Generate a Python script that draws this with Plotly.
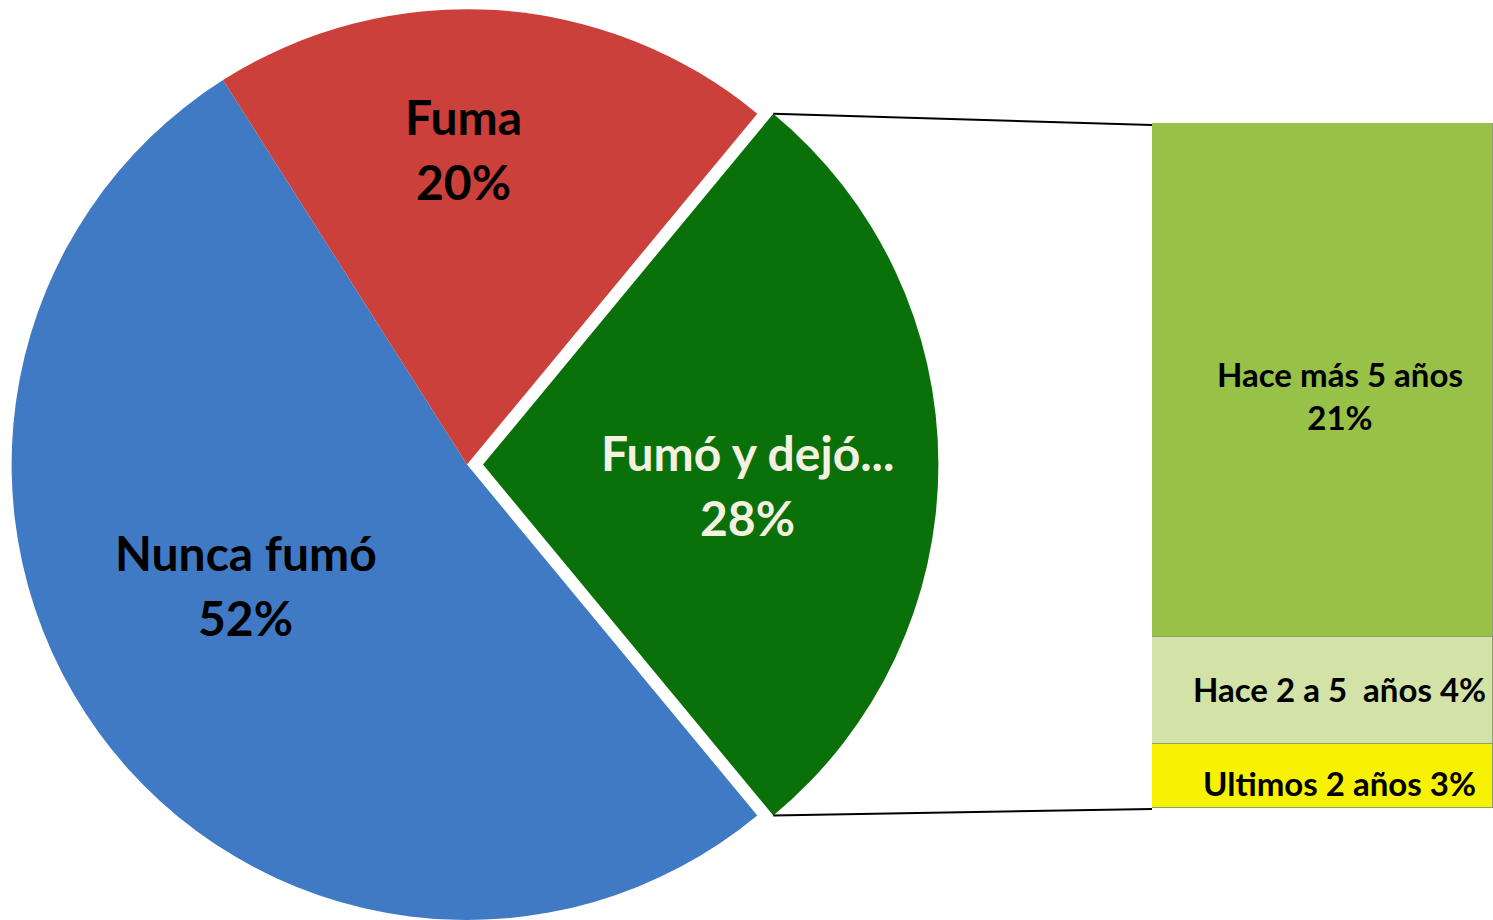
import math
import plotly.graph_objects as go

# ---------------- data ----------------
pie_labels = ["Nunca fumó", "Fuma", "Fumó y dejó..."]
pie_values = [52, 20, 28]
pie_colors = ["#4079c4", "#cc403b", "#0a700a"]
pie_text_colors = ["#000000", "#000000", "#f5f1e1"]

bar_labels = ["Ultimos 2 años", "Hace 2 a 5\u00a0\u00a0años", "Hace más 5 años"]
bar_values = [2.6, 4.4, 21.0]
bar_colors = ["#f7f200", "#d3e2a7", "#98c148"]

# ---------------- layout geometry ----------------
W, H = 1493, 920
FONT = "Lato"

pie_r = H * 0.99 / 2          # radius in px
pie_cy = H * 0.01 + pie_r     # centre (px, from top)
pie_cx = 467.0
pull_px = 16.0

def px2paper_x(px):
    return px / W

def px2paper_y(py):
    return 1 - py / H

dom_y = [0.0, 0.99]
dom_x1 = [px2paper_x(pie_cx - pie_r), px2paper_x(pie_cx + pie_r)]
dom_x2 = [px2paper_x(pie_cx + pull_px - pie_r), px2paper_x(pie_cx + pull_px + pie_r)]

total = sum(pie_values)
green_deg = pie_values[2] / total * 360
rotation = 90 + green_deg / 2

fig = go.Figure()

# Main pie (blue + red), green slot transparent
fig.add_trace(go.Pie(
    labels=pie_labels, values=pie_values, sort=False, direction="clockwise",
    rotation=rotation, domain=dict(x=dom_x1, y=dom_y),
    marker=dict(colors=[pie_colors[0], pie_colors[1], "rgba(0,0,0,0)"],
                line=dict(width=0)),
    textinfo="none", hoverinfo="skip", showlegend=False,
))
# Exploded slice (green)
fig.add_trace(go.Pie(
    labels=pie_labels, values=pie_values, sort=False, direction="clockwise",
    rotation=rotation, domain=dict(x=dom_x2, y=dom_y),
    marker=dict(colors=["rgba(0,0,0,0)", "rgba(0,0,0,0)", pie_colors[2]],
                line=dict(width=0)),
    textinfo="none", hoverinfo="skip", showlegend=False,
))

# Stacked bar (breakdown of "Fumó y dejó")
bar_left_px, bar_top_px, bar_bot_px = 1152, 123, 808
for lab, val, col in zip(bar_labels, bar_values, bar_colors):
    fig.add_trace(go.Bar(
        x=[0], y=[val], width=[1], name=lab,
        marker=dict(color=col, line=dict(color="#8f9c78", width=1)),
        xaxis="x", yaxis="y", hoverinfo="skip", showlegend=False,
    ))

annotations = []

# Pie labels (two lines each)
label_offsets = [(-0.486, 0.264), (-0.007, -0.692), (0.58, 0.044)]  # fractions of r (x right, y down)
line_gap = 65
for i, (lab, val) in enumerate(zip(pie_labels, pie_values)):
    cx = pie_cx + (pull_px if i == 2 else 0)
    lx = cx + label_offsets[i][0] * pie_r
    ly = pie_cy + label_offsets[i][1] * pie_r
    for j, txt in enumerate([lab, f"{val}%"]):
        annotations.append(dict(
            x=px2paper_x(lx), y=px2paper_y(ly + (j - 0.5) * line_gap),
            xref="paper", yref="paper", text=f"<b>{txt}</b>", showarrow=False,
            font=dict(family=FONT, size=48, color=pie_text_colors[i]),
            xanchor="center", yanchor="middle",
        ))

# Bar labels
cum = 0
for k, (lab, val) in enumerate(zip(bar_labels, bar_values)):
    mid = cum + val / 2
    cum += val
    pct = f"{val:.0f}%"
    if k == 2:
        text = f"<b>{lab}<br>{pct}</b>"
        yshift = -16
    else:
        text = f"<b>{lab} {pct}</b>"
        yshift = 2 if k == 1 else -7
    annotations.append(dict(
        x=0.05, y=mid, xref="x", yref="y", text=text, showarrow=False,
        font=dict(family=FONT, size=33, color="#000000"),
        xanchor="center", yanchor="middle", yshift=yshift,
    ))

# Connector lines from exploded slice to bar
half = math.radians(green_deg / 2)
gcx = pie_cx + pull_px
p_top = (gcx + pie_r * math.cos(half), pie_cy - pie_r * math.sin(half))
p_bot = (gcx + pie_r * math.cos(half), pie_cy + pie_r * math.sin(half))
shapes = [
    dict(type="line", xref="paper", yref="paper",
         x0=px2paper_x(p_top[0]), y0=px2paper_y(p_top[1]),
         x1=px2paper_x(bar_left_px), y1=px2paper_y(bar_top_px + 2),
         line=dict(color="#000000", width=2)),
    dict(type="line", xref="paper", yref="paper",
         x0=px2paper_x(p_bot[0]), y0=px2paper_y(p_bot[1]),
         x1=px2paper_x(bar_left_px), y1=px2paper_y(bar_bot_px + 1),
         line=dict(color="#000000", width=2)),
]

fig.update_layout(
    width=W, height=H, margin=dict(l=0, r=0, t=0, b=0),
    paper_bgcolor="white", plot_bgcolor="rgba(0,0,0,0)",
    barmode="stack", bargap=0,
    xaxis=dict(domain=[px2paper_x(bar_left_px), 1.0], range=[-0.5, 0.5],
               visible=False, fixedrange=True),
    yaxis=dict(domain=[px2paper_y(bar_bot_px), px2paper_y(bar_top_px)],
               range=[0, sum(bar_values)], visible=False, fixedrange=True),
    annotations=annotations, shapes=shapes,
)

fig.write_html("out.html", config={"displayModeBar": False},
               post_script="document.body.style.margin='0';document.body.style.overflow='hidden';")
